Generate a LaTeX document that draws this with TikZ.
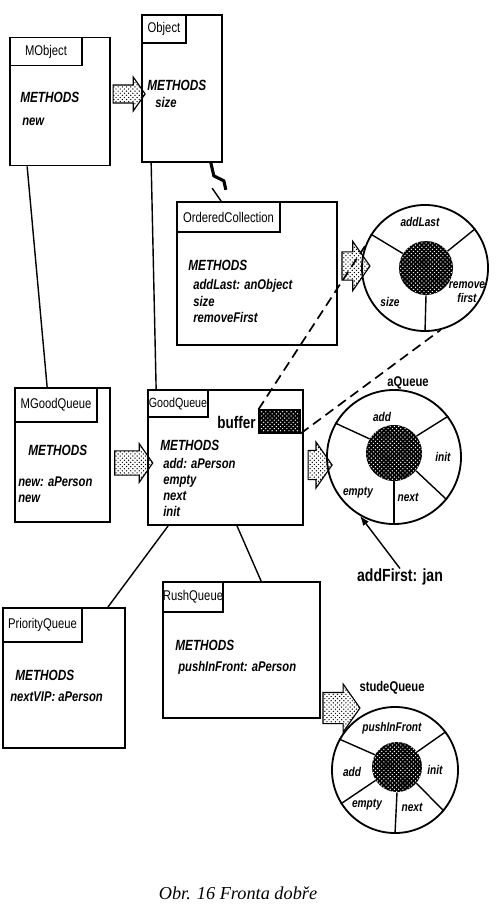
\documentclass[tikz,border=0pt]{standalone}
\usepackage{fontspec}
\setmainfont{Liberation Serif}
\newfontfamily\narrowsans[FakeStretch=0.8]{Liberation Sans}
\usepackage{tikz}
\usetikzlibrary{arrows.meta,calc,patterns,shapes.arrows}
\tikzset{
  class-box/.style={draw, line width=1.2pt, inner sep=0pt},
  class-title/.style={draw, line width=1.2pt, anchor=north west, inner sep=0pt,
    font=\narrowsans\fontsize{10}{11}\selectfont},
  method-head/.style={anchor=west, inner sep=0pt,
    font=\narrowsans\bfseries\itshape\fontsize{10.5}{12}\selectfont},
  method-list/.style={anchor=west, inner sep=0pt, align=left,
    font=\narrowsans\bfseries\itshape\fontsize{10}{11.5}\selectfont},
  ring/.style={circle, draw, line width=1.3pt, inner sep=0pt},
  ring-core/.style={circle, inner sep=0pt, preaction={fill=black},
    pattern=crosshatch dots, pattern color=white},
  ring-label/.style={inner sep=0pt, align=center,
    font=\narrowsans\bfseries\itshape\fontsize{9}{9.5}\selectfont},
  queue-name/.style={inner sep=0pt, font=\narrowsans\bfseries\fontsize{10}{11}\selectfont},
  hatch-arrow/.style={single arrow, draw, line width=0.8pt, pattern=crosshatch dots,
    inner xsep=0pt, single arrow tip angle=110},
  conn/.style={line width=1pt},
  spoke/.style={line width=1pt},
  ref-link/.style={line width=1.2pt, dash pattern=on 7pt off 4pt}
}

\begin{document}
\begin{tikzpicture}[>=Latex, x=0.025cm, y=-0.025cm]
  \useasboundingbox (0,0) rectangle (496,918);

  % MObject
  \node[class-box, minimum width=2.5cm, minimum height=3.2cm] (mobj) at (60,101.5) {};
  \node[class-title, minimum width=1.8cm, minimum height=0.7cm] (mobj-title) at (mobj.north west) {MObject};
  \node[method-head] (mobj-head) at (20,97) {METHODS};
  \node[method-list] (mobj-list) at (22,122) {new};

  % Object
  \node[class-box, minimum width=2cm, minimum height=3.675cm] (obj) at (182,88.5) {};
  \node[class-title, minimum width=1.1cm, minimum height=0.7cm] (obj-title) at (obj.north west) {Object};
  \node[method-head] (obj-head) at (147,85) {METHODS};
  \node[method-list] (obj-list) at (155,102) {size};

  % OrderedCollection
  \node[class-box, minimum width=4cm, minimum height=3.575cm] (oc) at (257,273.5) {};
  \node[class-title, minimum width=2.575cm, minimum height=0.75cm] (oc-title) at (oc.north west) {OrderedCollection};
  \node[method-head] (oc-head) at (188,265) {METHODS};
  \node[method-list] (oc-list) at (193,301) {addLast: anObject\\size\\removeFirst};

  % MGoodQueue
  \node[class-box, minimum width=2.375cm, minimum height=3.35cm] (mgq) at (62.5,455) {};
  \node[class-title, minimum width=2.05cm, minimum height=0.85cm] (mgq-title) at (mgq.north west) {MGoodQueue};
  \node[method-head] (mgq-head) at (28,450) {METHODS};
  \node[method-list] (mgq-list) at (18,490) {new: aPerson\\new};

  % GoodQueue with its buffer
  \node[class-box, minimum width=3.875cm, minimum height=3.375cm] (gq) at (225.5,457.5) {};
  \node[class-title, minimum width=1.5cm, minimum height=0.675cm, font=\narrowsans\fontsize{9.5}{10}\selectfont] (gq-title) at (gq.north west) {GoodQueue};
  \node[queue-name, anchor=east, font=\narrowsans\bfseries\fontsize{12}{13}\selectfont] (buf-label) at (256,422) {buffer};
  \node[ring-core, rectangle, draw, line width=0.8pt, minimum width=1.025cm, minimum height=0.575cm] (buf) at (279.5,421.5) {};
  \node[method-head] (gq-head) at (160,445) {METHODS};
  \node[method-list] (gq-list) at (163,487.5) {add: aPerson\\empty\\next\\init};

  % PriorityQueue
  \node[class-box, minimum width=3.05cm, minimum height=3.5cm] (pq) at (64,678) {};
  \node[class-title, minimum width=1.975cm, minimum height=0.85cm] (pq-title) at (pq.north west) {PriorityQueue};
  \node[method-head] (pq-head) at (15,675) {METHODS};
  \node[method-list] (pq-list) at (10,697) {nextVIP: aPerson};

  % RushQueue
  \node[class-box, minimum width=3.925cm, minimum height=3.4cm] (rq) at (241.5,650) {};
  \node[class-title, minimum width=1.5cm, minimum height=0.75cm] (rq-title) at (rq.north west) {RushQueue};
  \node[method-head] (rq-head) at (175,645) {METHODS};
  \node[method-list] (rq-list) at (178,668) {pushInFront: aPerson};

  % inheritance lines
  \draw[conn] ($(mobj.south west)+(18,0)$) -- ($(mgq.north west)+(33,0)$);
  \draw[conn] ($(obj.south west)+(10,0)$) -- ($(gq.north west)+(9,0)$);
  \draw[conn] ($(gq.south west)+(21,0)$) -- ($(pq.north east)+(-18,0)$);
  \draw[conn] ($(gq.south)+(11.5,0)$) -- ($(rq.north west)+(99,0)$);
  \draw[line width=2.2pt] ($(obj.south east)+(-12,0)$) -- ++(3,13) -- ++(10,5) -- ++(2,9);
  \draw[conn] ($(oc.north west)+(36,-13)$) -- ($(oc.north west)+(45,0)$);

  % anOrderedCollection
  \node[ring, minimum size=3.15cm] (c1) at (425,268) {};
  \node[ring-core, minimum size=1.35cm] (c1-core) at (426,268) {};
  \draw[spoke] (c1-core.148) -- (c1.148);
  \draw[spoke] (c1-core.38) -- (c1.38);
  \draw[spoke] (c1-core.270) -- (c1.270);
  \node[ring-label] (c1-add) at (420,222) {addLast};
  \node[ring-label] (c1-remove) at (467,292) {remove\\first};
  \node[ring-label] (c1-size) at (390,302) {size};

  % aQueue
  \node[queue-name] (aq-name) at (408,383) {aQueue};
  \node[ring, minimum size=3.35cm] (aq) at (394,457) {};
  \node[ring-core, minimum size=1.4cm] (aq-core) at (394,453) {};
  \draw[spoke] (aq-core.150) -- (aq.150);
  \draw[spoke] (aq-core.37) -- (aq.37);
  \draw[spoke] (aq-core.-39) -- (aq.-39);
  \draw[spoke] (aq-core.270) -- (aq.270);
  \node[ring-label] (aq-add) at (382,417) {add};
  \node[ring-label] (aq-init) at (443,457) {init};
  \node[ring-label] (aq-next) at (408,497) {next};
  \node[ring-label] (aq-empty) at (358,493) {empty};

  % message to aQueue
  \node[queue-name, font=\narrowsans\bfseries\fontsize{12.5}{14}\selectfont] (jan) at (400,577) {addFirst: jan};
  \draw[conn, -{Latex[length=7pt,width=5pt]}] (jan.north) -- (aq.240);

  % studeQueue
  \node[queue-name] (sq-name) at (392,688) {studeQueue};
  \node[ring, minimum size=3.15cm] (sq) at (395,770) {};
  \node[ring-core, minimum size=1.25cm] (sq-core) at (397,767) {};
  \draw[spoke] (sq-core.151) -- (sq.151);
  \draw[spoke] (sq-core.37) -- (sq.37);
  \draw[spoke] (sq-core.-40) -- (sq.-40);
  \draw[spoke] (sq-core.270) -- (sq.270);
  \draw[spoke] (sq-core.212) -- (sq.212);
  \node[ring-label] (sq-push) at (392,728) {pushInFront};
  \node[ring-label] (sq-init) at (435,770) {init};
  \node[ring-label] (sq-next) at (412,807) {next};
  \node[ring-label] (sq-empty) at (367,805) {empty};
  \node[ring-label] (sq-add) at (352,772) {add};

  % instance arrows
  \node[hatch-arrow, minimum height=0.8cm, inner ysep=0.21cm, single arrow head extend=0.2cm] (a-obj) at (126,94) {};
  \node[hatch-arrow, minimum height=0.7cm, inner ysep=0.34cm, single arrow head extend=0.26cm] (a-oc) at (351,266) {};
  \node[hatch-arrow, minimum height=0.95cm, inner ysep=0.29cm, single arrow head extend=0.18cm] (a-gq) at (129.5,463) {};
  \node[hatch-arrow, minimum height=0.6cm, inner ysep=0.35cm, single arrow head extend=0.21cm] (a-aq) at (315,465) {};
  \node[hatch-arrow, minimum height=0.925cm, inner ysep=0.375cm, single arrow head extend=0.21cm] (a-sq) at (336,708) {};

  % buffer references
  \draw[ref-link] (buf.north west) -- (c1.160);
  \draw[ref-link] (buf.south east) -- (c1.-76);

  % caption
  \node[font=\itshape\fontsize{13}{15}\selectfont] (caption) at (238,893) {Obr. 16 Fronta dobře};
\end{tikzpicture}
\end{document}
